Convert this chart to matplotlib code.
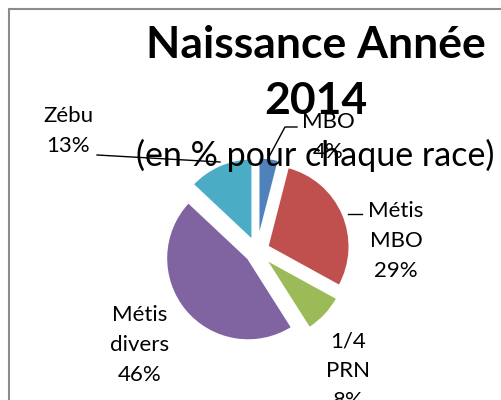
import matplotlib.pyplot as plt
from matplotlib.patches import Rectangle
from matplotlib.lines import Line2D

# data
races = ["MBO", "Métis MBO", "1/4 PRN", "Métis divers", "Zébu"]
percents = [4, 29, 8, 46, 13]
labels = ["MBO\n4%", "Métis\nMBO\n29%", "1/4\nPRN\n8%", "Métis\ndivers\n46%", "Zébu\n13%"]
colors = ["#4F81BD", "#C0504D", "#9BBB59", "#8064A2", "#4BACC6"]

W, H = 501, 400
plt.rcParams["font.family"] = ["Lato", "DejaVu Sans"]

fig = plt.figure(figsize=(W / 100, H / 100), dpi=100)


def px(x, y):
    return x / W, 1 - y / H


# chart frame (cut off at the right and bottom)
fig.patches.append(Rectangle(px(9, 420), 600 / W, 411 / H, transform=fig.transFigure,
                             fill=False, edgecolor="#8c8c8c", linewidth=1.5))

# pie axes: centre (257, 251) px, radius 82 px
cx, cy, r = 257, 251, 82
ax = fig.add_axes([0, 0, 1, 1])
ax.pie(percents, colors=colors, startangle=90, counterclock=False,
       explode=[0.14] * len(percents), radius=1,
       wedgeprops=dict(edgecolor="white", linewidth=1.5))
ax.set_xlim(-cx / r, (W - cx) / r)
ax.set_ylim(-(H - cy) / r, cy / r)
ax.axis("off")

# leader lines
fig.add_artist(Line2D([270 / W, 285 / W, 297 / W], [1 - 155 / H, 1 - 127 / H, 1 - 127 / H],
                      color="black", linewidth=1))
fig.add_artist(Line2D([97 / W, 220 / W], [1 - 155 / H, 1 - 162 / H], color="black", linewidth=1))
fig.add_artist(Line2D([348 / W, 362 / W], [1 - 214 / H, 1 - 214 / H], color="black", linewidth=1))

# slice labels
label_pos = [(328, 137), (396, 241), (348, 371), (140, 345), (68, 131)]
for lab, (x, y) in zip(labels, label_pos):
    fig.text(*px(x, y), lab, ha="center", va="center", fontsize=16, linespacing=1.62)

# titles
fig.text(*px(316, 45), "Naissance Année", ha="center", va="center",
         fontsize=32, fontweight="bold")
fig.text(*px(316, 101), "2014", ha="center", va="center",
         fontsize=32, fontweight="bold")
fig.text(*px(315, 155), "(en % pour chaque race)", ha="center", va="center", fontsize=24.5)

fig.savefig("out.png", dpi=100)
